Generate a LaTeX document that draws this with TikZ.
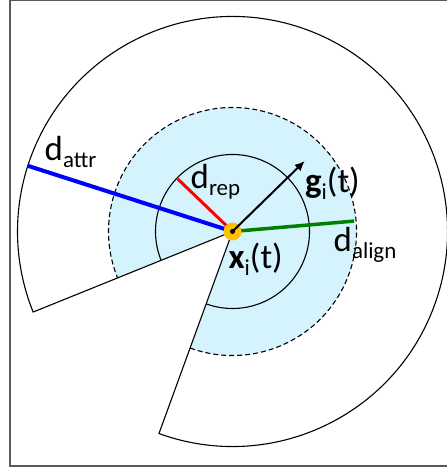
\documentclass[tikz,border=0pt]{standalone}
\usepackage{fontspec}
\setmainfont{Carlito}
\usetikzlibrary{arrows.meta, positioning, calc}
\definecolor{zoneblue}{RGB}{213, 243, 252}
\definecolor{attrblue}{RGB}{0, 0, 255}
\definecolor{repred}{RGB}{255, 0, 0}
\definecolor{aligngreen}{RGB}{0, 128, 0}
\definecolor{agentgold}{RGB}{255, 192, 0}
\definecolor{framegray}{RGB}{90, 90, 90}
\newcommand{\lowsub}[1]{\raisebox{-7bp}{\fontsize{23}{23}\selectfont #1}}

\begin{document}
\begin{tikzpicture}[x=1bp, y=1bp,
  zone/.style={line width=1.1bp},
  rline/.style={line width=#1, line cap=butt},
  lbl/.style={anchor=base west, inner sep=0pt, font=\fontsize{35}{40}\selectfont}
]
  \useasboundingbox (0,0) rectangle (447,472);
  \draw[framegray, line width=1.5bp] (10,6) rectangle (455,471.5);

  \coordinate (xi) at (232.5, 240.5);
  \coordinate (attrend) at ($(xi)+(162.2:215)$);
  \coordinate (repend) at ($(xi)+(136.2:76)$);
  \coordinate (alignend) at ($(xi)+(4.9:122)$);
  \coordinate (goal) at ($(xi)+(44.3:101)$);

  % zones
  \fill[zoneblue] (xi) -- ++(250:124) arc[start angle=250, end angle=562, radius=124] -- cycle;
  \draw[zone] (xi) -- ++(250:215) arc[start angle=250, end angle=562, radius=215] -- cycle;
  \draw[zone, dash pattern=on 5bp off 3bp] ($(xi)+(250:124)$) arc[start angle=250, end angle=562, radius=124];
  \draw[zone] ($(xi)+(250:77)$) arc[start angle=250, end angle=562, radius=77];

  % distances
  \draw[rline=4bp, attrblue] (xi) -- (attrend);
  \draw[rline=3bp, repred] (xi) -- (repend);
  \draw[rline=3.5bp, aligngreen] (xi) -- (alignend);

  \node[circle, fill=agentgold, minimum size=18bp, inner sep=0pt] (agent) at (xi) {};
  \fill (agent.center) circle (2.5bp);
  \draw[line width=2bp, -{Latex[length=10bp, width=9bp]}] (agent.center) -- (goal);

  \node[lbl] (lattr) at (44.5, 311) {d\lowsub{attr}};
  \node[lbl] (lrep) at (190.5, 283.7) {d\lowsub{rep}};
  \node[lbl] (lgoal) at (305, 279) {\textbf{g}\lowsub{i}(t)};
  \node[lbl] (lpos) at (228.5, 203.7) {\textbf{x}\lowsub{i}(t)};
  \node[lbl] (lalign) at (333.5, 220.3) {d\lowsub{align}};
\end{tikzpicture}
\end{document}
